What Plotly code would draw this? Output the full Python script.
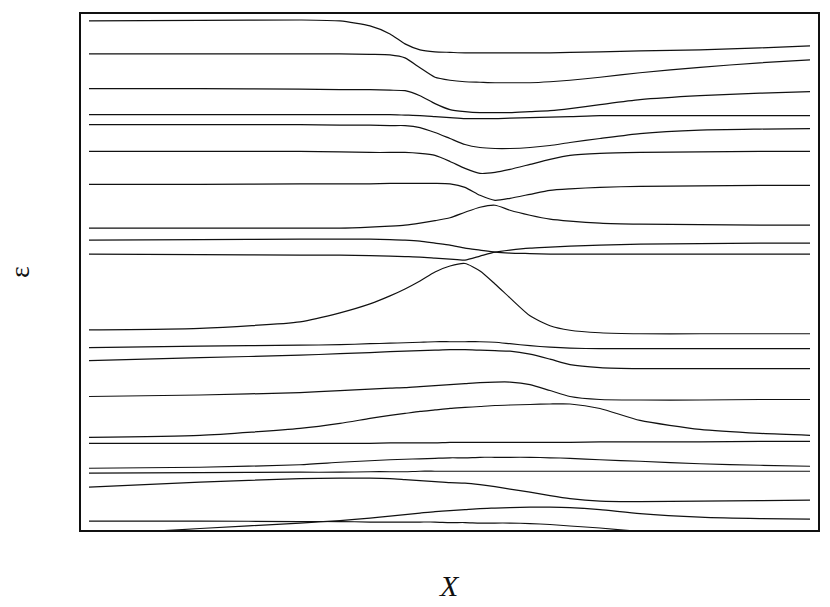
import plotly.graph_objects as go

# --- Data: energy levels eps(X), one list per level, all on a common X grid ---
X = [0, 11.1, 21.1, 25.1, 28.1, 30.1, 31.6, 33.1, 34.6, 36.1, 37.6,
     39.1, 40.6, 42.1, 44.1, 46.1, 48.1, 51.1, 55.1, 61.1, 67.1, 72.1]

level_01 = [51.1, 51.15, 51.2, 51.1, 50.6, 49.8, 48.8, 48.2, 48.0, 47.95, 47.9,
            47.9, 47.9, 47.9, 47.9, 47.9, 47.95, 48.0, 48.1, 48.2, 48.4, 48.6]
level_02 = [47.8, 47.8, 47.8, 47.8, 47.75, 47.7, 47.4, 46.4, 45.45, 45.15, 45.0,
            44.95, 44.9, 44.9, 44.9, 45.0, 45.15, 45.45, 45.9, 46.45, 46.9, 47.2]
level_03 = [44.3, 44.3, 44.25, 44.2, 44.2, 44.15, 44.1, 43.6, 42.8, 42.2, 42.0,
            41.9, 41.9, 41.9, 42.0, 42.1, 42.3, 42.7, 43.2, 43.6, 43.85, 44.0]
level_04 = [41.7, 41.7, 41.7, 41.7, 41.7, 41.7, 41.65, 41.6, 41.5, 41.4, 41.3,
            41.3, 41.3, 41.35, 41.4, 41.45, 41.5, 41.6, 41.6, 41.6, 41.6, 41.6]
level_05 = [40.7, 40.7, 40.7, 40.65, 40.65, 40.6, 40.6, 40.4, 39.9, 39.3, 38.7,
            38.4, 38.3, 38.3, 38.4, 38.6, 38.9, 39.3, 39.8, 40.15, 40.25, 40.3]
level_06 = [38.0, 38.0, 38.0, 37.95, 37.9, 37.9, 37.9, 37.8, 37.6, 37.0, 36.3,
            35.8, 35.9, 36.2, 36.7, 37.2, 37.6, 37.8, 37.9, 37.95, 38.0, 38.0]
level_07 = [34.7, 34.7, 34.75, 34.75, 34.75, 34.8, 34.8, 34.8, 34.8, 34.75, 34.4,
            33.6, 33.1, 33.3, 33.7, 34.1, 34.25, 34.4, 34.5, 34.55, 34.6, 34.6]
level_08 = [30.3, 30.3, 30.3, 30.3, 30.4, 30.5, 30.6, 30.8, 31.05, 31.35, 31.9,
            32.4, 32.6, 32.1, 31.6, 31.2, 31.0, 30.8, 30.7, 30.65, 30.6, 30.6]
level_09 = [29.1, 29.15, 29.2, 29.2, 29.2, 29.15, 29.1, 29.0, 28.8, 28.6, 28.3,
            28.1, 27.9, 27.8, 27.75, 27.7, 27.7, 27.7, 27.7, 27.7, 27.7, 27.7]
level_10 = [27.7, 27.65, 27.6, 27.6, 27.55, 27.5, 27.45, 27.4, 27.3, 27.2, 27.1,
            27.5, 27.9, 28.1, 28.3, 28.4, 28.5, 28.6, 28.7, 28.75, 28.8, 28.8]
level_11 = [20.1, 20.25, 20.9, 21.8, 22.7, 23.5, 24.2, 25.0, 25.9, 26.5, 26.75,
            26.0, 24.7, 23.3, 21.5, 20.5, 20.05, 19.8, 19.7, 19.7, 19.7, 19.7]
level_12 = [18.3, 18.45, 18.55, 18.6, 18.7, 18.75, 18.8, 18.85, 18.9, 18.9, 18.9,
            18.9, 18.85, 18.7, 18.5, 18.35, 18.25, 18.2, 18.2, 18.2, 18.2, 18.2]
level_13 = [17.0, 17.3, 17.55, 17.7, 17.8, 17.9, 17.95, 18.0, 18.05, 18.1, 18.1,
            18.05, 18.0, 17.95, 17.65, 17.15, 16.6, 16.3, 16.2, 16.2, 16.2, 16.2]
level_14 = [13.4, 13.55, 13.8, 14.0, 14.15, 14.25, 14.3, 14.4, 14.5, 14.6, 14.7,
            14.8, 14.85, 14.85, 14.6, 14.0, 13.4, 13.1, 13.05, 13.05, 13.1, 13.1]
level_15 = [9.3, 9.5, 10.2, 10.7, 11.2, 11.5, 11.7, 11.9, 12.05, 12.2, 12.3,
            12.4, 12.5, 12.55, 12.6, 12.65, 12.65, 12.2, 11.0, 10.1, 9.7, 9.5]
level_16 = [8.7, 8.7, 8.7, 8.7, 8.7, 8.75, 8.75, 8.75, 8.75, 8.8, 8.8,
            8.8, 8.8, 8.8, 8.8, 8.8, 8.8, 8.85, 8.85, 8.85, 8.9, 8.9]
level_17 = [6.2, 6.3, 6.55, 6.8, 6.95, 7.05, 7.1, 7.15, 7.2, 7.25, 7.25,
            7.3, 7.3, 7.3, 7.3, 7.25, 7.2, 7.05, 6.9, 6.65, 6.5, 6.4]
level_18 = [5.7, 5.75, 5.8, 5.8, 5.85, 5.85, 5.85, 5.9, 5.9, 5.9, 5.9,
            5.9, 5.9, 5.9, 5.9, 5.9, 5.9, 5.9, 5.9, 5.9, 5.9, 5.9]
level_19 = [4.3, 4.8, 5.15, 5.2, 5.2, 5.15, 5.05, 4.95, 4.85, 4.75, 4.7,
            4.55, 4.35, 4.1, 3.8, 3.45, 3.15, 2.9, 2.85, 2.9, 2.95, 3.0]
level_20 = [0.9, 0.9, 0.85, 0.85, 0.8, 0.8, 0.8, 0.8, 0.8, 0.75, 0.75,
            0.7, 0.7, 0.7, 0.65, 0.55, 0.4, 0.2, -0.15, -0.6, -1.0, -1.3]
level_21 = [-0.5, 0.15, 0.7, 0.95, 1.2, 1.4, 1.55, 1.7, 1.85, 1.95, 2.05,
            2.15, 2.2, 2.25, 2.3, 2.3, 2.25, 2.05, 1.65, 1.3, 1.15, 1.1]

levels = [level_01, level_02, level_03, level_04, level_05, level_06, level_07,
          level_08, level_09, level_10, level_11, level_12, level_13, level_14,
          level_15, level_16, level_17, level_18, level_19, level_20, level_21]

fig = go.Figure()

for eps in levels:
    fig.add_trace(go.Scatter(
        x=X,
        y=eps,
        mode="lines",
        line=dict(color="#111111", width=1.2, shape="spline", smoothing=0.6),
        showlegend=False,
        hoverinfo="skip",
    ))

# --- Layout: bare framed box, no ticks ---
axis_style = dict(
    showgrid=False,
    zeroline=False,
    showticklabels=False,
    ticks="",
    showline=True,
    mirror=True,
    linecolor="#111111",
    linewidth=1.5,
)

# page body has an 8px margin, so the figure is sized 8px short of the window
fig.update_layout(
    width=822,
    height=599,
    plot_bgcolor="white",
    paper_bgcolor="white",
    margin=dict(l=73, r=12, t=4, b=77),
    xaxis=dict(range=[-0.8, 72.9], **axis_style),
    yaxis=dict(range=[0, 51.8], **axis_style),
    annotations=[
        dict(
            text="<i>X</i>",
            xref="paper", yref="paper",
            x=0.5, y=0, yshift=-55,
            xanchor="center", yanchor="middle",
            showarrow=False,
            font=dict(family="Liberation Serif", size=30, color="#111111"),
        ),
        dict(
            text="ε",
            xref="paper", yref="paper",
            x=0, y=0.5, xshift=-62,
            xanchor="center", yanchor="middle",
            textangle=-90,
            showarrow=False,
            font=dict(family="Liberation Serif", size=28, color="#111111"),
        ),
    ],
)

fig.write_html("out.html")
